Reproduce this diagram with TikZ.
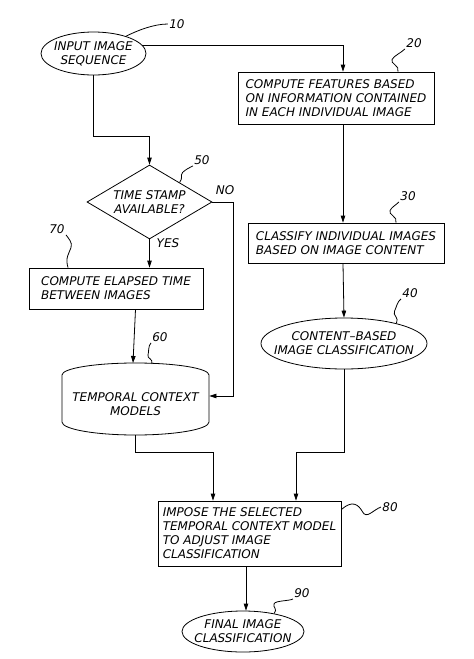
\documentclass[tikz,border=0pt]{standalone}
\usepackage{fontspec}
\setmainfont{DejaVu Sans}
\usepackage{tikz}
\usetikzlibrary{arrows.meta}
\usetikzlibrary{shapes.geometric}

\tikzset{
  boite/.style={draw, rectangle, align=left, inner sep=0pt},
  ovale/.style={draw, ellipse, align=center, inner xsep=-20pt, inner ysep=0pt},
  losange/.style={draw, diamond, align=center, inner sep=0pt, aspect=1.7},
  fleche/.style={-{Triangle[length=7pt,width=4.5pt]}},
  repere/.style={inner sep=1pt},
}

\begin{document}
\begin{tikzpicture}[x=1pt, y=-1pt, line width=0.8pt,
    every node/.style={font=\fontsize{12}{14}\selectfont\itshape}]
    \useasboundingbox (0,0) rectangle (474,659);

    % Nœuds du diagramme
    \node[ovale, minimum width=105pt, minimum height=43pt] (in) at (93.5,53.5) {INPUT IMAGE\\SEQUENCE};
    \node[boite, minimum width=196pt, minimum height=52pt] (f20) at (336,98) {COMPUTE FEATURES BASED\\ON INFORMATION CONTAINED\\IN EACH INDIVIDUAL IMAGE};
    \node[losange, minimum width=125pt, minimum height=74pt] (ts) at (149.5,202) {TIME STAMP\\AVAILABLE?};
    \node[boite, minimum width=196pt, minimum height=40pt] (f30) at (346,243) {CLASSIFY INDIVIDUAL IMAGES\\BASED ON IMAGE CONTENT};
    \node[boite, minimum width=174pt, minimum height=41pt] (el) at (116,288.5) {COMPUTE ELAPSED TIME\\BETWEEN IMAGES};
    \node[ovale, minimum width=166pt, minimum height=51pt] (cb) at (344,343.5) {CONTENT--BASED\\IMAGE CLASSIFICATION};
    \node[align=center, inner sep=0pt, minimum width=147pt] (tcm) at (135.5,404) {TEMPORAL CONTEXT\\MODELS};
    \node[boite, minimum width=183pt, minimum height=65pt] (im) at (249.5,533.5) {IMPOSE THE SELECTED\\TEMPORAL CONTEXT MODEL\\TO ADJUST IMAGE\\CLASSIFICATION};
    \node[ovale, minimum width=122pt, minimum height=41pt] (fin) at (243,631.5) {FINAL IMAGE\\CLASSIFICATION};

    % Cylindre
    \draw ([shift={(-73.5,18)}]tcm.center) -- ++(0,-47)
        arc[start angle=180, end angle=0, x radius=73.5pt, y radius=12pt] -- ++(0,47)
        arc[start angle=0, end angle=-180, x radius=73.5pt, y radius=13pt];

    % Repères
    \node[repere] (l10) at (177,24) {10};
    \node[repere] (l20) at (414,43) {20};
    \node[repere] (l30) at (408,196) {30};
    \node[repere] (l40) at (410,293) {40};
    \node[repere] (l50) at (202,160) {50};
    \node[repere] (l60) at (160,337) {60};
    \node[repere] (l70) at (57,229) {70};
    \node[repere] (l80) at (390,507) {80};
    \node[repere] (l90) at (302,593) {90};
    \node (oui) at (168,243) {YES};
    \node (non) at (225,190) {NO};

    % Trajets
    \draw[fleche] (in.10) -| ([xshift=7pt]f20.north);
    \draw[fleche] (in.south) -- ++(0,61) -| (ts.north);
    \draw[fleche] ([xshift=7pt]f20.south) -- ([xshift=-3pt]f30.north);
    \draw[fleche] ([xshift=-3pt]f30.south) -- (cb.north);
    \draw[fleche] (ts.south) -- (ts.south |- el.north);
    \draw[fleche] (ts.east) -- ++(21,0) |- ([yshift=8pt]tcm.east);
    \draw[fleche] (el.south -| tcm.north) -- ([xshift=-2.5pt,yshift=41pt]tcm.center);
    \draw[fleche] ([yshift=-31pt]tcm.center) -- ++(0,17) -| ([xshift=-36.5pt]im.north);
    \draw[fleche] (cb.south) -- ++(0,83) -| ([xshift=46.5pt]im.north);
    \draw[fleche] ([xshift=-3.5pt]im.south) -- ([xshift=3pt]fin.north);

    % Traits des repères
    \draw (in.28) .. controls +(12,-6) and +(-14,0) .. (l10.west);
    \draw ([xshift=62pt]f20.north) .. controls +(2,-6) and +(-2,4) .. +(-6,-12) .. controls +(2,-4) and +(-4,4) .. (l20.south west);
    \draw ([xshift=50pt]f30.north) .. controls +(2,-6) and +(-2,4) .. +(-6,-12) .. controls +(2,-4) and +(-4,4) .. (l30.south west);
    \draw (cb.21) .. controls +(3,-6) and +(-2,4) .. +(-2,-12) .. controls +(2,-4) and +(-4,3) .. (l40.south west);
    \draw (ts.33) .. controls +(4,-5) and +(-3,4) .. +(3,-10) .. controls +(3,-3) and +(-4,2) .. (l50.south west);
    \draw ([xshift=16.5pt,yshift=40pt]tcm.center) .. controls +(1,-6) and +(-1,4) .. +(-4,-9) .. controls +(1,-3) and +(-3,3) .. (l60.south west);
    \draw ([xshift=-48pt]el.north) .. controls +(-3,-10) and +(-2,6) .. +(3,-20) .. controls +(2,-5) and +(2,3) .. (l70.south east);
    \draw ([yshift=-9pt]im.north east) .. controls +(11,-10) and +(-4,-7) .. +(21,2) .. controls +(4,8) and +(-8,3) .. (l80.west);
    \draw (fin.30) .. controls +(4,-5) and +(-2,4) .. +(0,-10) .. controls +(2,-3) and +(-3,2) .. (l90.south west);
\end{tikzpicture}
\end{document}
